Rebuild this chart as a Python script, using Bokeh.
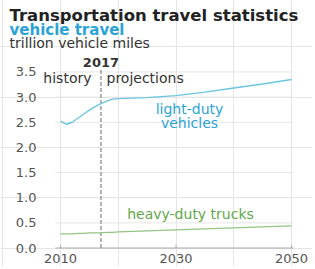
from bokeh.plotting import figure
from bokeh.models import Range1d, Label, ColumnDataSource
from bokeh.core.properties import value
from bokeh.embed import file_html
from bokeh.resources import INLINE

years = [2010, 2011, 2012, 2013, 2014, 2015, 2016, 2017, 2018, 2019, 2020,
         2025, 2030, 2035, 2040, 2045, 2050]
light_duty = [2.52, 2.46, 2.50, 2.58, 2.66, 2.74, 2.81, 2.87, 2.92, 2.96, 2.97,
              2.99, 3.03, 3.10, 3.18, 3.26, 3.35]
heavy_duty = [0.28, 0.28, 0.28, 0.29, 0.29, 0.30, 0.30, 0.30, 0.31, 0.31, 0.32,
              0.34, 0.36, 0.38, 0.40, 0.42, 0.44]
x_ticks = [2010, 2030, 2050]
y_ticks = [0.0, 0.5, 1.0, 1.5, 2.0, 2.5, 3.0, 3.5]
split_year = 2017

FONT = "DejaVu Sans"
BLUE_LINE = "#6cc5e0"
BLUE_TEXT = "#2ba3d8"
GREEN_LINE = "#94c583"
GREEN_TEXT = "#5fa84a"
TICK_COLOR = "#555555"

W, H = 312, 266
OFF = 0             # page offset of the figure's top-left corner
SX = 5.775          # px per year
X0 = 2010 - (60 - OFF) / SX
SY = 50.3           # px per unit
Y0 = -(H - (247.5 - OFF)) / SY

p = figure(width=W, height=H, output_backend="svg", toolbar_location=None,
           x_range=Range1d(X0, X0 + W / SX), y_range=Range1d(Y0, Y0 + H / SY),
           x_axis_location=None, y_axis_location=None,
           min_border=0)
p.outline_line_color = None
p.background_fill_color = "white"
p.border_fill_color = "white"

def dx(page_x):
    return X0 + (page_x - OFF) / SX

def dy(page_y):
    return Y0 + (H - (page_y - OFF)) / SY

x_start, x_end = dx(55), dx(293)

# grid lines
grid_y = [t for t in y_ticks if t > 0]
p.segment(x0=[x_start] * len(grid_y), y0=grid_y, x1=[x_end] * len(grid_y),
          y1=grid_y, line_color="#e6e6e6", line_width=1)
# x axis line and ticks
p.segment(x0=[x_start], y0=[0], x1=[x_end], y1=[0], line_color="#aaaaaa", line_width=1)
p.segment(x0=x_ticks, y0=[0] * len(x_ticks), x1=x_ticks, y1=[0.06] * len(x_ticks),
          line_color="#aaaaaa", line_width=1)

# tick labels
ysrc = ColumnDataSource(dict(x=[dx(36)] * len(y_ticks), y=y_ticks,
                             t=["%.1f" % v for v in y_ticks]))
p.text(x="x", y="y", text="t", source=ysrc, text_align="right",
       text_baseline="middle", text_font=value(FONT), text_font_size="13px",
       text_color=TICK_COLOR)
xsrc = ColumnDataSource(dict(x=x_ticks, y=[dy(258)] * len(x_ticks),
                             t=[str(v) for v in x_ticks]))
p.text(x="x", y="y", text="t", source=xsrc, text_align="center",
       text_baseline="middle", text_font=value(FONT), text_font_size="13px",
       text_color=TICK_COLOR)

# split line
p.segment(x0=[split_year], y0=[0], x1=[split_year], y1=[dy(68)],
          line_color="#9a9a9a", line_dash="4 2", line_width=1.5)

# series
p.line(years, light_duty, line_color=BLUE_LINE, line_width=1.4)
p.line(years, heavy_duty, line_color=GREEN_LINE, line_width=1.4)

def lab(text, x, y, color="#333333", size="14px", style="normal", align="left"):
    p.add_layout(Label(x=x, y=y, text=text, text_color=color,
                       text_font=FONT, text_font_size=size,
                       text_font_style=style, text_align=align,
                       text_baseline="middle"))

lab("Transportation travel statistics", dx(9), dy(15), "#222222", "16.5px", "bold")
lab("vehicle travel", dx(9), dy(29.5), BLUE_TEXT, "15px", "bold")
lab("trillion vehicle miles", dx(9), dy(42), "#333333", "14px")

lab("2017", split_year, dy(62), "#333333", "13px", "bold", "center")
lab("history", dx(91), dy(77), "#333333", "14px", align="right")
lab("projections", dx(106), dy(77), "#333333", "14px", align="left")

lab("light-duty", dx(189), dy(108), BLUE_TEXT, "14px", align="center")
lab("vehicles", dx(189), dy(122), BLUE_TEXT, "14px", align="center")
lab("heavy-duty trucks", dx(190), dy(213), GREEN_TEXT, "14px", align="center")

open("out.html", "w").write(file_html(p, INLINE))
